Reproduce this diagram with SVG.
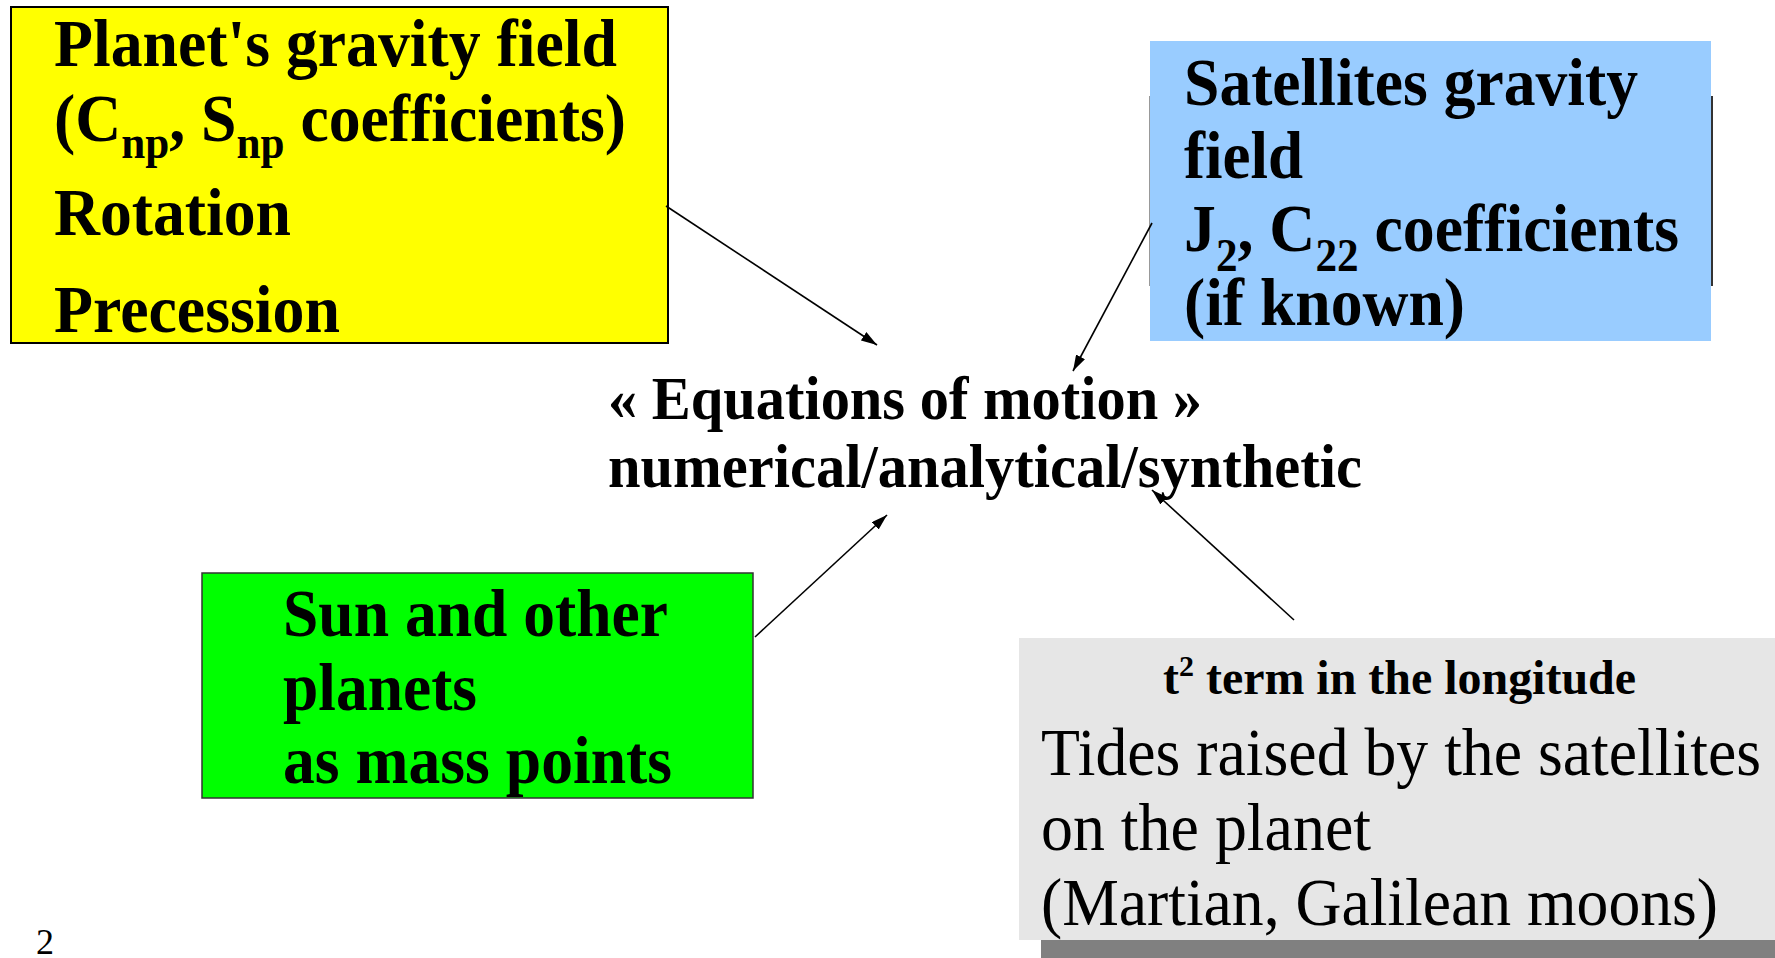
<svg xmlns="http://www.w3.org/2000/svg" width="1775" height="958" viewBox="0 0 1775 958">
<defs>
<marker id="ah" viewBox="0 0 16 10" refX="16" refY="5" markerWidth="16" markerHeight="10" markerUnits="userSpaceOnUse" orient="auto">
<path d="M0,0 L16,5 L0,10 z" fill="#000"/>
</marker>
<style>
.b{font-family:"Liberation Serif","Times New Roman",serif;font-weight:bold;fill:#000}
.r{font-family:"Liberation Serif","Times New Roman",serif;font-weight:normal;fill:#000}
.conn line{stroke:#000;stroke-width:1.6;marker-end:url(#ah)}
</style>
</defs>
<rect width="1775" height="958" fill="#fff"/>
<g id="planet">
<rect x="11" y="7" width="657" height="336" fill="#ffff00" stroke="#000" stroke-width="2"/>
<text class="b" x="54" y="66" font-size="68" textLength="563" lengthAdjust="spacingAndGlyphs">Planet's gravity field</text>
<text class="b" x="54" y="141" font-size="68" textLength="572" lengthAdjust="spacingAndGlyphs">(C<tspan font-size="46" dy="17">np</tspan><tspan dy="-17">, S</tspan><tspan font-size="46" dy="17">np</tspan><tspan dy="-17"> coefficients)</tspan></text>
<text class="b" x="54" y="235" font-size="68" textLength="237" lengthAdjust="spacingAndGlyphs">Rotation</text>
<text class="b" x="54" y="332" font-size="68" textLength="286" lengthAdjust="spacingAndGlyphs">Precession</text>
</g>
<g id="satellites">
<line x1="1150" y1="96" x2="1150" y2="286" stroke="#999" stroke-width="2"/>
<line x1="1712" y1="96" x2="1712" y2="286" stroke="#333" stroke-width="2"/>
<rect x="1150" y="41" width="561" height="300" fill="#99ccff"/>
<text class="b" x="1184" y="105" font-size="68" textLength="454" lengthAdjust="spacingAndGlyphs">Satellites gravity</text>
<text class="b" x="1184" y="178" font-size="68" textLength="119" lengthAdjust="spacingAndGlyphs">field</text>
<text class="b" x="1184" y="251" font-size="68" textLength="495" lengthAdjust="spacingAndGlyphs">J<tspan font-size="46" dy="20">2</tspan><tspan dy="-20">, C</tspan><tspan font-size="46" dy="20">22</tspan><tspan dy="-20"> coefficients</tspan></text>
<text class="b" x="1184" y="325" font-size="68" textLength="281" lengthAdjust="spacingAndGlyphs">(if known)</text>
</g>
<g id="sun">
<rect x="202" y="573" width="551" height="225" fill="#00ff00" stroke="#333" stroke-width="1.5"/>
<text class="b" x="283" y="636" font-size="68" textLength="385" lengthAdjust="spacingAndGlyphs">Sun and other</text>
<text class="b" x="283" y="710" font-size="68" textLength="194" lengthAdjust="spacingAndGlyphs">planets</text>
<text class="b" x="283" y="783" font-size="68" textLength="389" lengthAdjust="spacingAndGlyphs">as mass points</text>
</g>
<g id="tides">
<rect x="1041" y="940" width="734" height="18" fill="#808080"/>
<rect x="1019" y="638" width="756" height="302" fill="#e6e6e6"/>
<text class="b" x="1163" y="694" font-size="48" textLength="473" lengthAdjust="spacingAndGlyphs">t<tspan font-size="30" dy="-18">2</tspan><tspan dy="18"> term in the longitude</tspan></text>
<text class="r" x="1041" y="775" font-size="68" textLength="720" lengthAdjust="spacingAndGlyphs">Tides raised by the satellites</text>
<text class="r" x="1041" y="850" font-size="68" textLength="330" lengthAdjust="spacingAndGlyphs">on the planet</text>
<text class="r" x="1041" y="925" font-size="68" textLength="677" lengthAdjust="spacingAndGlyphs">(Martian, Galilean moons)</text>
</g>
<g id="equations">
<text class="b" x="608" y="419" font-size="62" textLength="594" lengthAdjust="spacingAndGlyphs">« Equations of motion »</text>
<text class="b" x="608" y="487" font-size="62" textLength="754" lengthAdjust="spacingAndGlyphs">numerical/analytical/synthetic</text>
</g>
<g id="page">
<text class="r" x="36" y="954" font-size="36">2</text>
</g>
<g class="conn" id="connectors">
<line x1="666" y1="206" x2="877" y2="345"/>
<line x1="1152" y1="223" x2="1073" y2="371"/>
<line x1="755" y1="637" x2="887" y2="515"/>
<line x1="1294" y1="620" x2="1152" y2="490"/>
</g>
</svg>
